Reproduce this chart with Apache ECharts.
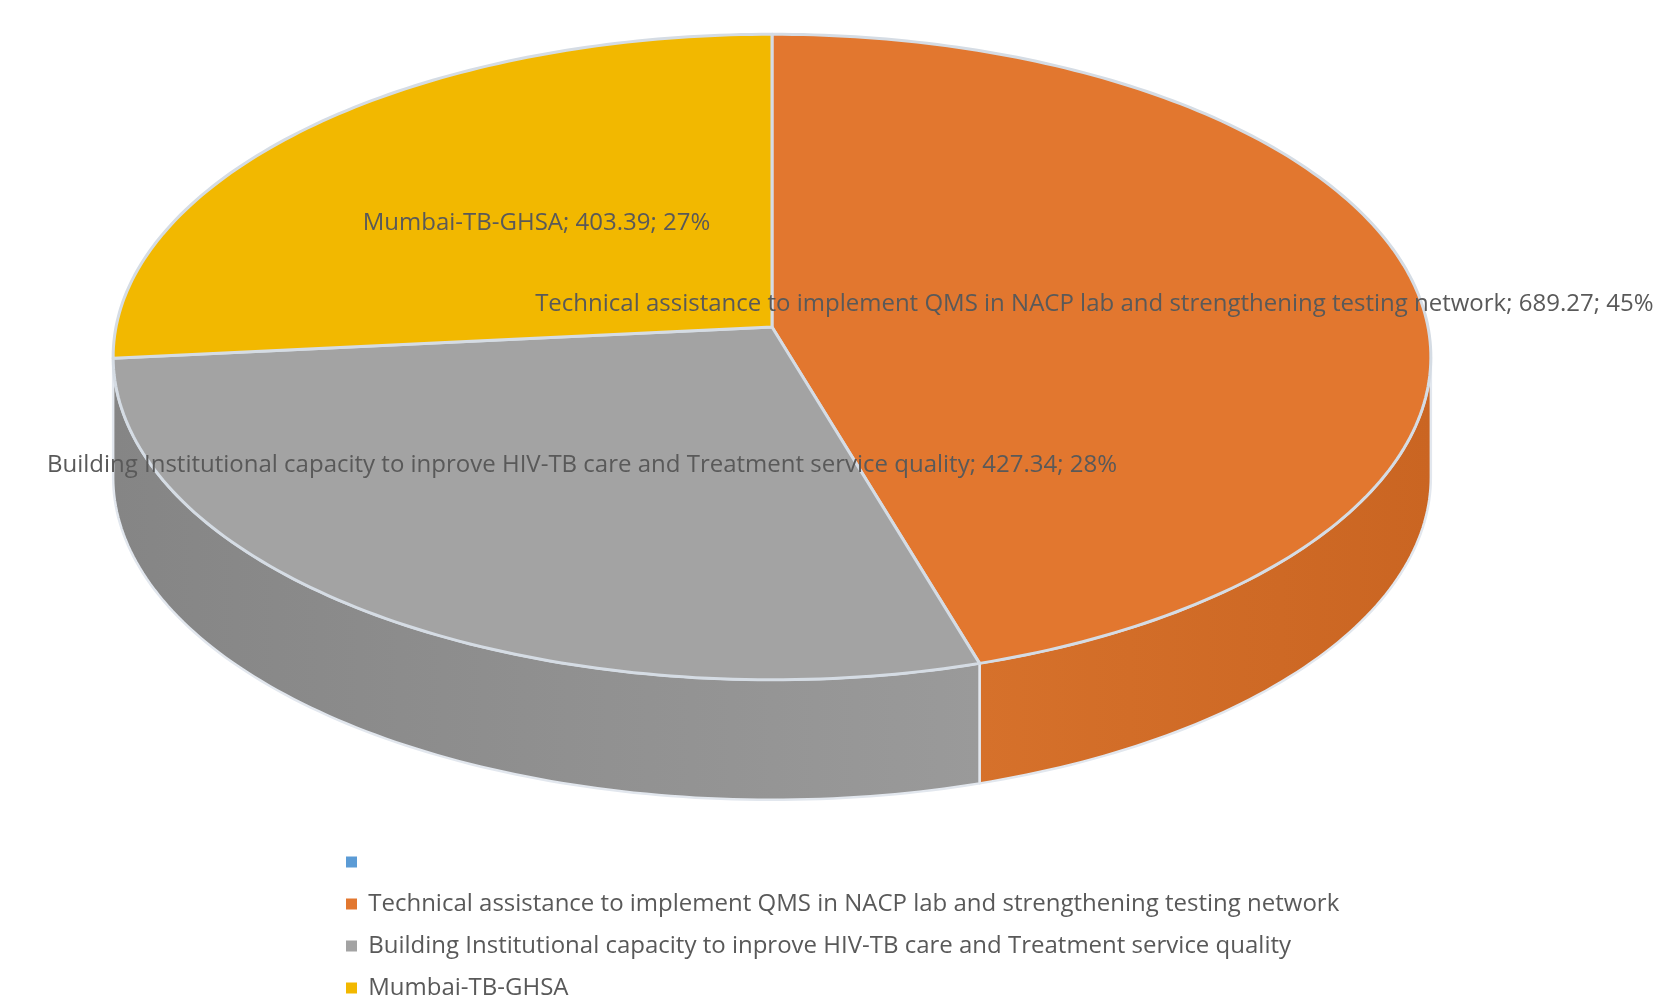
<!DOCTYPE html>
<html>
<head>
<meta charset="utf-8">
<script src="https://cdn.jsdelivr.net/npm/echarts@6/dist/echarts.min.js"></script>
<style>
  html, body { margin: 0; background: #fff; }
  #chart { width: 1656px; height: 1004px; }
</style>
</head>
<body>
<div id="chart"></div>
<script>
  // categories and values (first entry is the blank blue legend item)
  const names = [
    ' ',
    'Technical assistance to implement QMS in NACP lab and strengthening testing network',
    'Building Institutional capacity to inprove HIV-TB care and Treatment service quality',
    'Mumbai-TB-GHSA'
  ]
  const values = [0, 689.27, 427.34, 403.39]
  const colors = ['#5B9BD5', '#E2772F', '#A3A3A3', '#F2B800']
  const sideColors = [
    ['#4F8BC2', '#4F8BC2'],
    ['#D6712B', '#CA6522'],
    ['#858585', '#9A9A9A'],
    ['#D9A400', '#D9A400']
  ]

  // tilted disc projection (centre of the pie, radii, perspective, thickness)
  const cx = 772, cy = 327, ax = 656, by = 320, persp = 0.093, depth = 120
  const total = values.reduce((s, v) => s + v, 0)
  const edgeR = Math.acos(-persp) * 180 / Math.PI
  const edgeL = 360 - edgeR

  function proj(deg, r) {
    const t = deg * Math.PI / 180
    const w = 1 + persp * r * Math.cos(t)
    return [cx + ax * r * Math.sin(t) / w, cy - by * r * Math.cos(t) / w]
  }

  function arc(a0, a1, dy) {
    const pts = []
    const n = Math.max(2, Math.ceil(Math.abs(a1 - a0)))
    for (let i = 0; i <= n; i++) {
      const p = proj(a0 + (a1 - a0) * i / n, 1)
      pts.push([p[0], p[1] + dy])
    }
    return pts
  }

  function renderSlice(params, api) {
    const i = params.seriesIndex
    const v = values[i]
    if (!v) return
    let start = 0
    for (let k = 0; k < i; k++) start += values[k]
    const a0 = start / total * 360
    const a1 = (start + v) / total * 360
    const children = []

    // visible side wall
    const s0 = Math.max(a0, edgeR), s1 = Math.min(a1, edgeL)
    if (s1 - s0 > 0.5) {
      children.push({
        type: 'polygon',
        z2: 1,
        shape: { points: arc(s0, s1, 0).concat(arc(s1, s0, depth)) },
        style: {
          fill: {
            type: 'linear', x: 0, y: 0, x2: 1, y2: 0,
            colorStops: [
              { offset: 0, color: sideColors[i][0] },
              { offset: 1, color: sideColors[i][1] }
            ]
          },
          stroke: '#E2E7EE',
          lineWidth: 2.5,
          lineJoin: 'round'
        }
      })
    }

    // top face
    children.push({
      type: 'polygon',
      z2: 2,
      shape: { points: [proj(0, 0)].concat(arc(a0, a1, 0)) },
      style: { fill: colors[i], stroke: '#D5DCE4', lineWidth: 3, lineJoin: 'round' }
    })

    // data label
    const mid = proj((a0 + a1) / 2, 0.5)
    children.push({
      type: 'text',
      z2: 10,
      x: mid[0],
      y: mid[1],
      style: {
        text: names[i] + '; ' + v + '; ' + Math.round(v / total * 100) + '%',
        fill: '#595959',
        fontSize: 24,
        fontFamily: 'Open Sans',
        align: 'center',
        verticalAlign: 'middle'
      }
    })
    return { type: 'group', children: children }
  }

  const chart = echarts.init(document.getElementById('chart'))
  chart.setOption({
    animation: false,
    legend: {
      orient: 'vertical',
      left: 346,
      top: 850,
      padding: 0,
      icon: 'rect',
      itemWidth: 11,
      itemHeight: 11,
      itemGap: 18,
      selectedMode: false,
      data: names,
      formatter: n => ' ' + n,
      textStyle: { fontSize: 24, fontFamily: 'Open Sans', color: '#595959', lineHeight: 24 }
    },
    series: names.map((n, i) => ({
      type: 'custom',
      name: n,
      coordinateSystem: 'none',
      silent: true,
      color: colors[i],
      data: [values[i]],
      renderItem: renderSlice
    }))
  })
</script>
</body>
</html>
